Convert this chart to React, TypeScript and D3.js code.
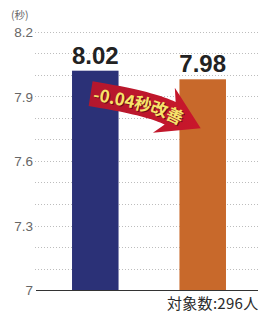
import React from "react";
import * as d3 from "d3";

// chart data
const categories = ["before", "after"];
const values = [8.02, 7.98];
const barColors = ["#2b3177", "#c8692b"];
const tickValues = [7, 7.3, 7.6, 7.9, 8.2];
const gridValues = [7.1, 7.2, 7.3, 7.4, 7.5, 7.6, 7.7, 7.8, 7.9, 8.0, 8.1, 8.2];
const unitLabel = "(秒)";
const arrowLabel = "-0.04秒改善";
const footLabel = "対象数:296人";

const W = 258;
const H = 315;

export default function App() {
  const y = d3.scaleLinear().domain([7, 8.2]).range([290, 32]);
  const x = d3
    .scaleBand<string>()
    .domain(categories)
    .range([37, 261])
    .paddingInner(0.567)
    .paddingOuter(0.326);
  const bw = x.bandwidth();

  // curved arrow from first bar towards second bar
  const p0: [number, number] = [x(categories[0])! + bw * 0.4, y(7.913)];
  const p2: [number, number] = [x(categories[1])! - bw * 0.2, y(7.822)];
  const startAng = (9 * Math.PI) / 180;
  const endAng = (26 * Math.PI) / 180;
  // control point: intersection of start and end tangents
  const dx = p2[0] - p0[0];
  const dy = p2[1] - p0[1];
  const t =
    (dy - Math.tan(endAng) * dx) / (Math.sin(startAng) - Math.tan(endAng) * Math.cos(startAng));
  const c: [number, number] = [p0[0] + t * Math.cos(startAng), p0[1] + t * Math.sin(startAng)];

  const bez = (s: number): [number, number] => [
    (1 - s) * (1 - s) * p0[0] + 2 * (1 - s) * s * c[0] + s * s * p2[0],
    (1 - s) * (1 - s) * p0[1] + 2 * (1 - s) * s * c[1] + s * s * p2[1],
  ];
  const bezD = (s: number): [number, number] => [
    2 * (1 - s) * (c[0] - p0[0]) + 2 * s * (p2[0] - c[0]),
    2 * (1 - s) * (c[1] - p0[1]) + 2 * s * (p2[1] - c[1]),
  ];
  const bodyH = 12.5;
  const headH = 25;
  const headL = 34;
  const steps = d3.range(0, 1.0001, 0.05);
  const upper: [number, number][] = steps.map((s) => {
    const [px, py] = bez(s);
    const [tx, ty] = bezD(s);
    const l = Math.hypot(tx, ty);
    return [px + (ty / l) * bodyH, py - (tx / l) * bodyH];
  });
  const lower: [number, number][] = steps.map((s) => {
    const [px, py] = bez(s);
    const [tx, ty] = bezD(s);
    const l = Math.hypot(tx, ty);
    return [px - (ty / l) * bodyH, py + (tx / l) * bodyH];
  });
  const ux = Math.cos(endAng);
  const uy = Math.sin(endAng);
  const tip: [number, number] = [p2[0] + ux * headL, p2[1] + uy * headL];
  const headTop: [number, number] = [p2[0] - ux * 7 + uy * headH, p2[1] - uy * 7 - ux * headH];
  const headBot: [number, number] = [p2[0] - ux * 7 - uy * headH, p2[1] - uy * 7 + ux * headH];
  const arrowPts = [...upper, headTop, tip, headBot, ...lower.reverse()];
  const arrowD = d3.line()(arrowPts)! + "Z";
  const centerD = d3.line()(steps.map(bez).concat([tip]))!;

  const jp = "'Noto Sans CJK JP', sans-serif";

  return (
    <svg
      width={W}
      height={H}
      style={{ position: "absolute", left: 0, top: 0, background: "#fff" }}
      fontFamily="'Liberation Sans', Arial, sans-serif"
    >
      <defs>
        <linearGradient id="arrowGrad" x1="0" y1="0" x2="1" y2="0">
          <stop offset="0" stopColor="#b3172d" />
          <stop offset="1" stopColor="#c9172b" />
        </linearGradient>
        <path id="arrowCenter" d={centerD} />
      </defs>

      {/* grid */}
      <g stroke="#bdbdbd" strokeWidth={1} strokeDasharray="1,2">
        {gridValues.map((v) => (
          <line key={v} x1={35} x2={W} y1={Math.round(y(v)) + 0.5} y2={Math.round(y(v)) + 0.5} />
        ))}
      </g>

      {/* tick labels */}
      <g fill="#666" fontSize={13.5} textAnchor="end">
        {tickValues.map((v) => (
          <text key={v} x={33} y={y(v) + 5}>
            {d3.format("~g")(v)}
          </text>
        ))}
      </g>
      <text x={11} y={19} fontSize={10.5} fill="#666" fontFamily={jp}>
        {unitLabel}
      </text>

      {/* bars */}
      {categories.map((cat, i) => (
        <rect
          key={cat}
          x={x(cat)}
          y={y(values[i])}
          width={bw}
          height={y(7) - y(values[i])}
          fill={barColors[i]}
        />
      ))}

      {/* value labels */}
      {categories.map((cat, i) => (
        <text
          key={cat}
          x={x(cat)! + bw / 2}
          y={y(values[i]) - 7}
          textAnchor="middle"
          fontSize={24}
          fontWeight="bold"
          fill="#222"
        >
          {values[i].toFixed(2)}
        </text>
      ))}

      {/* baseline */}
      <line x1={36} x2={W} y1={y(7) + 0.5} y2={y(7) + 0.5} stroke="#333" strokeWidth={1} />

      {/* arrow annotation */}
      <path d={arrowD} fill="url(#arrowGrad)" />
      <text fontSize={17} fontWeight="bold" fill="#6e0b16" fontFamily={jp} dy={6.5} transform="translate(1,1)">
        <textPath href="#arrowCenter" startOffset={3}>
          {arrowLabel}
        </textPath>
      </text>
      <text fontSize={17} fontWeight="bold" fill="#f6e46a" fontFamily={jp} dy={6.5}>
        <textPath href="#arrowCenter" startOffset={3}>
          {arrowLabel}
        </textPath>
      </text>

      {/* footnote */}
      <text x={167} y={309} fontSize={15} letterSpacing={0.3} fill="#2a2a2a" fontFamily={jp}>
        {footLabel}
      </text>
    </svg>
  );
}
